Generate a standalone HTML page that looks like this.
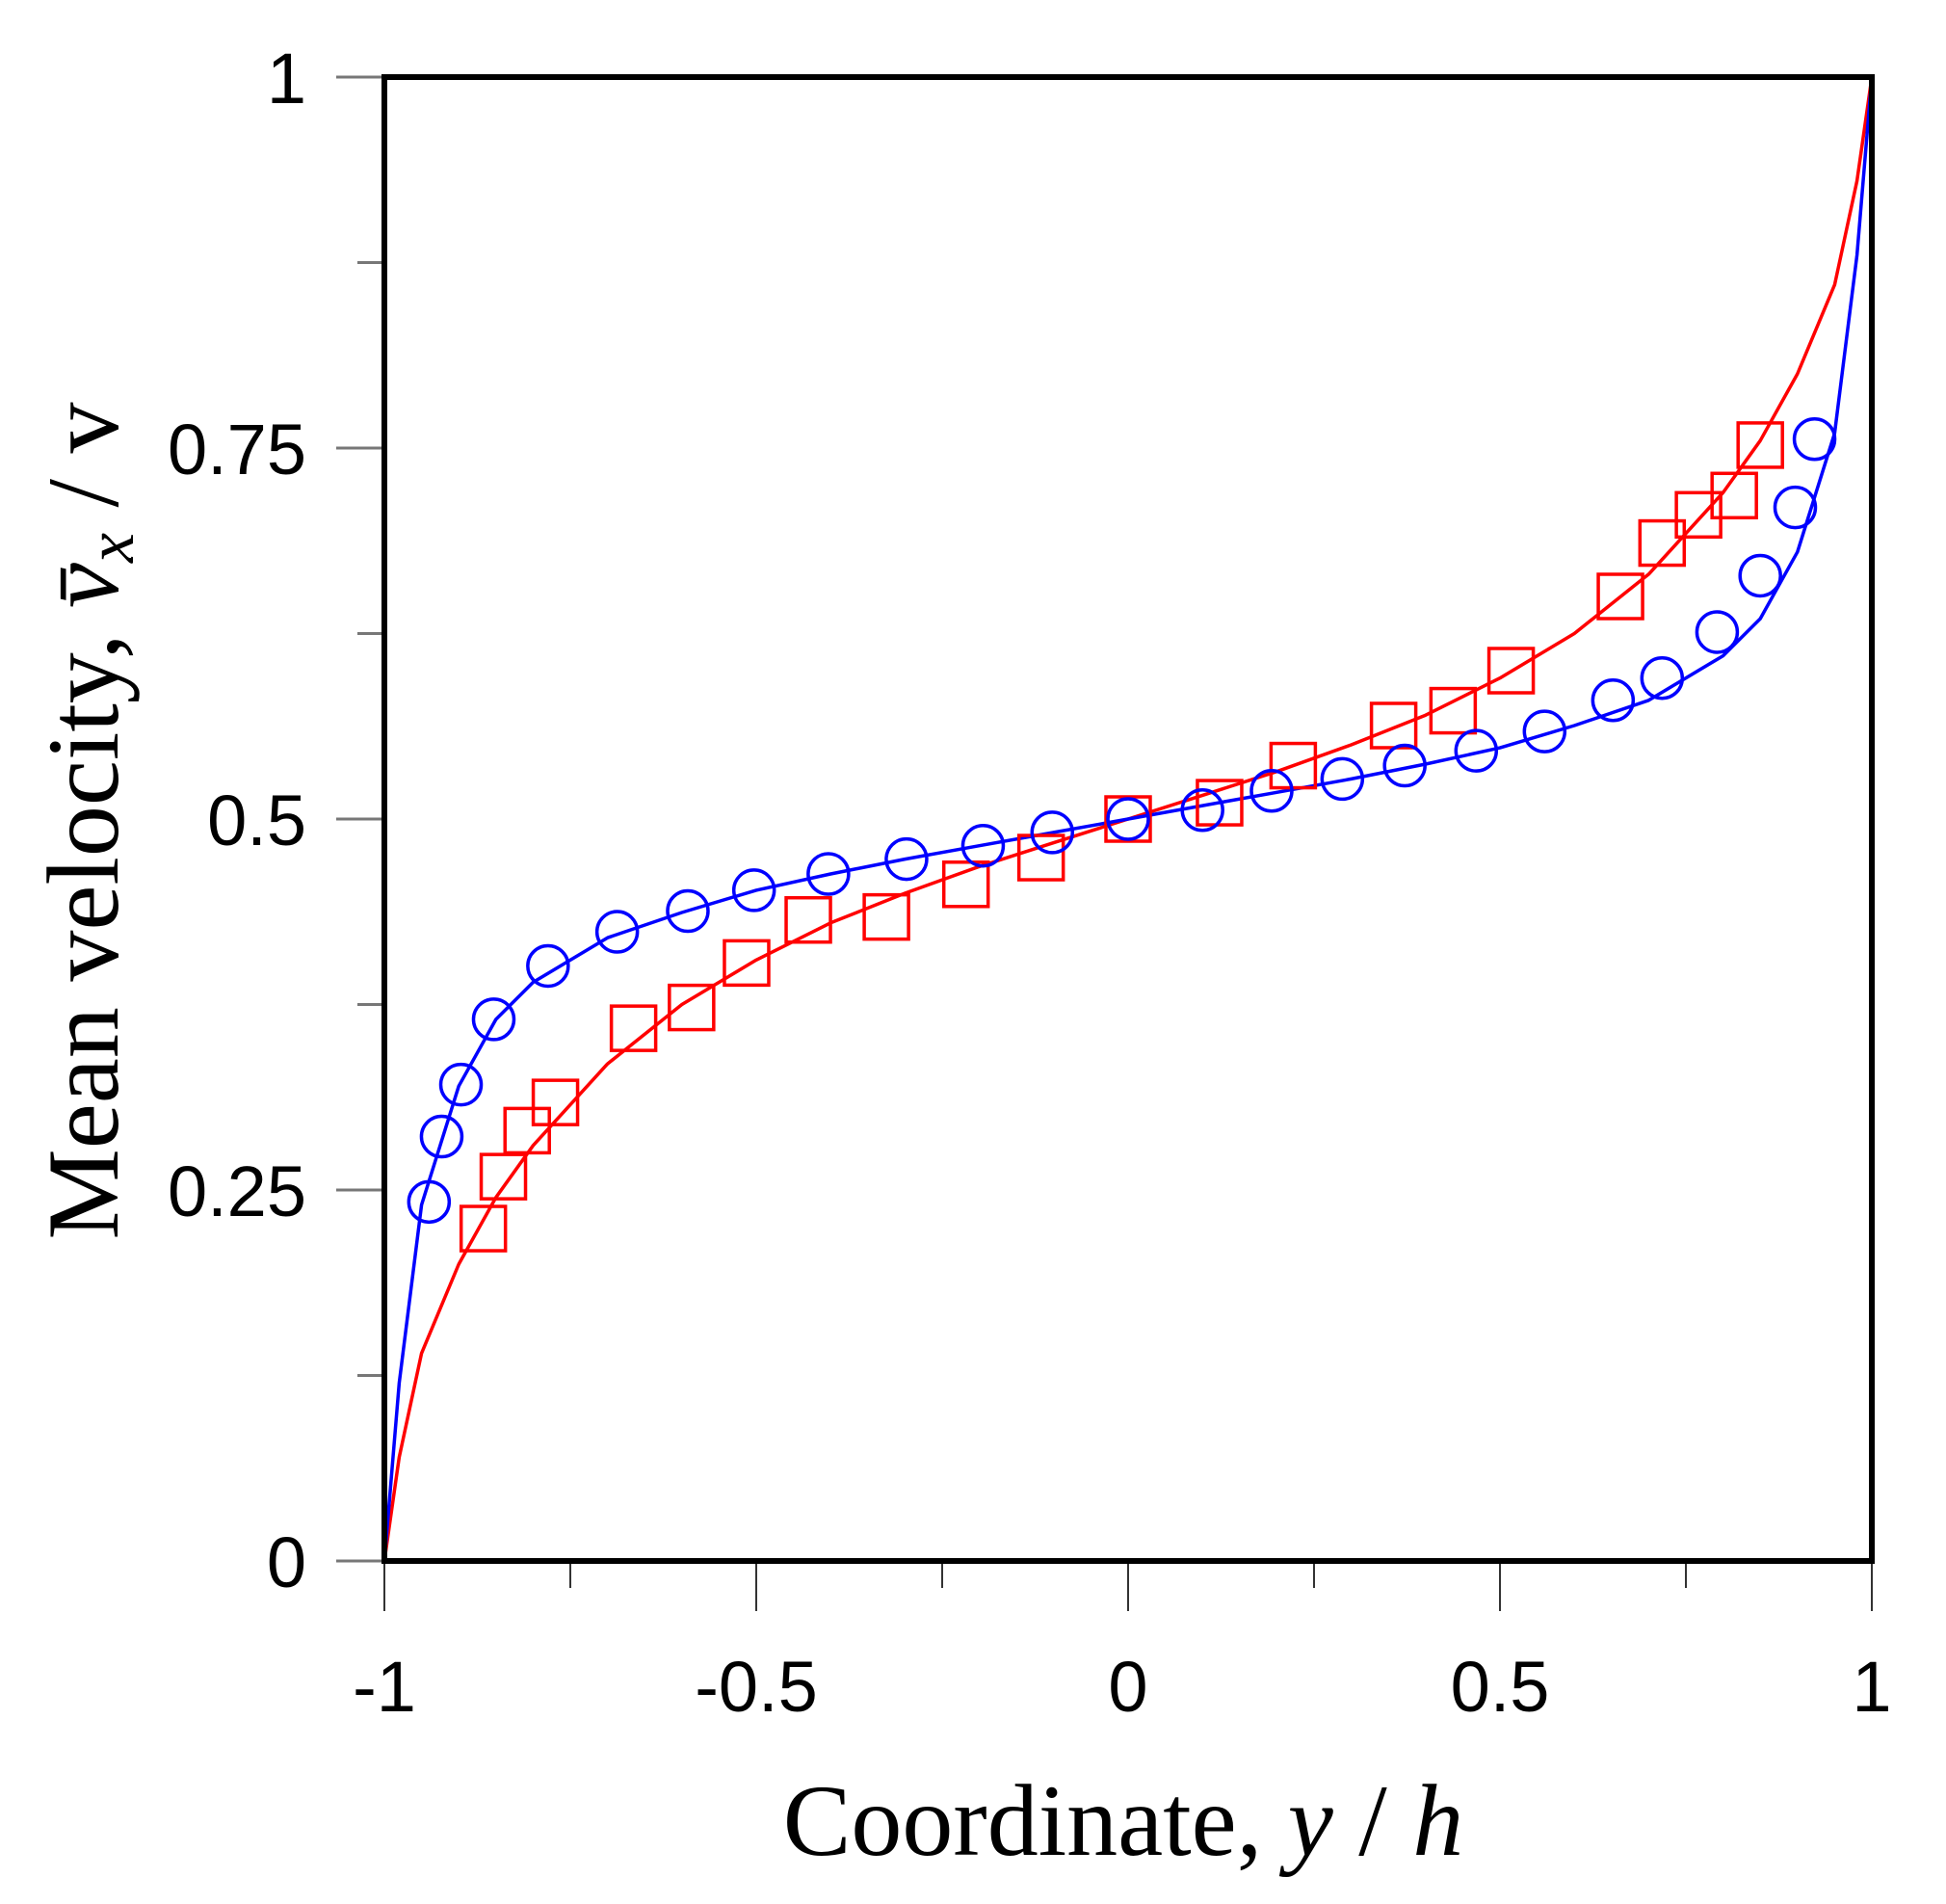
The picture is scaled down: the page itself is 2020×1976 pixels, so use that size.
<!DOCTYPE html>
<html><head><meta charset="utf-8"><style>
html,body{margin:0;padding:0;background:#fff;}
svg{display:block;}
.tick{font-family:"Liberation Sans",sans-serif;font-size:74px;fill:#000;}
.title{font-family:"Liberation Serif",serif;font-size:106px;fill:#000;}
</style></head><body>
<svg id="chart" width="2020" height="1976" viewBox="0 0 2020 1976" xmlns="http://www.w3.org/2000/svg">
<g id="ticks"></g>
<g id="curves"></g>
<g id="marks"></g>
<rect x="399" y="80" width="1544" height="1540" fill="none" stroke="#000" stroke-width="6"/>
<text class="title" x="1166" y="1925" text-anchor="middle">Coordinate, <tspan font-style="italic">y</tspan> / <tspan font-style="italic">h</tspan></text>
<text class="title" transform="translate(122,852) rotate(-90)" text-anchor="middle">Mean velocity, <tspan font-style="italic">v̄</tspan><tspan font-style="italic" font-size="70" dy="16">x</tspan><tspan dy="-16"> / v</tspan></text>
</svg>
<script>
const xTicks=[-1,-0.75,-0.5,-0.25,0,0.25,0.5,0.75,1];
const xTickLabels=["-1","","-0.5","","0","","0.5","","1"];
const yTicks=[0,0.125,0.25,0.375,0.5,0.625,0.75,0.875,1];
const yTickLabels=["0","","0.25","","0.5","","0.75","","1"];
const blueX=[-0.94,-0.923,-0.897,-0.853,-0.78,-0.687,-0.592,-0.503,-0.403,-0.298,-0.195,-0.102,0.0,0.1,0.193,0.288,0.372,0.468,0.56,0.652,0.718,0.792,0.85,0.897,0.923];
const blueY=[0.242,0.286,0.321,0.365,0.401,0.424,0.438,0.452,0.463,0.473,0.482,0.491,0.500,0.506,0.519,0.527,0.536,0.546,0.559,0.580,0.595,0.626,0.664,0.710,0.756];
const redX=[-0.867,-0.84,-0.808,-0.77,-0.665,-0.587,-0.513,-0.43,-0.325,-0.218,-0.117,0,0.123,0.222,0.357,0.437,0.515,0.662,0.718,0.767,0.815,0.85];
const redY=[0.224,0.259,0.290,0.309,0.359,0.373,0.403,0.432,0.434,0.456,0.474,0.500,0.511,0.536,0.563,0.573,0.600,0.650,0.686,0.705,0.718,0.752];
const curveX=[-1,-0.98,-0.95,-0.9,-0.85,-0.8,-0.7,-0.6,-0.5,-0.4,-0.3,-0.2,-0.1,0,0.1,0.2,0.3,0.4,0.5,0.6,0.7,0.8,0.85,0.9,0.95,0.98,1];
const blueCurveY=[0,0.12,0.24,0.32,0.365,0.39,0.42,0.437,0.452,0.463,0.473,0.482,0.491,0.5,0.509,0.518,0.527,0.537,0.548,0.563,0.58,0.61,0.635,0.68,0.76,0.88,1];
const redCurveY=[0,0.07,0.14,0.2,0.245,0.28,0.335,0.375,0.405,0.43,0.45,0.468,0.484,0.5,0.516,0.532,0.55,0.57,0.595,0.625,0.665,0.72,0.755,0.8,0.86,0.93,1];

const L=399,R=1943,T=80,B=1620;
const sx=v=>L+(v+1)/2*(R-L);
const sy=v=>B-v*(B-T);
const NS="http://www.w3.org/2000/svg";
function mk(tag,parent,attrs){const e=document.createElementNS(NS,tag);for(const k in attrs)e.setAttribute(k,attrs[k]);parent.appendChild(e);return e;}
const tg=document.getElementById('ticks');
xTicks.forEach((v,i)=>{
  const major=xTickLabels[i]!=="";
  const ln=mk('line',tg,{x1:sx(v),x2:sx(v),y1:B,y2:B+(major?52:28),stroke:'#333','stroke-width':2});
  
  
  if(major){const t=mk('text',tg,{x:sx(v),y:1776,'text-anchor':'middle',class:'tick'});t.textContent=xTickLabels[i];
  
  }
});
yTicks.forEach((v,i)=>{
  const major=yTickLabels[i]!=="";
  const ln=mk('line',tg,{x1:L-(major?50:28),x2:L,y1:sy(v),y2:sy(v),stroke:'#777','stroke-width':3});
  
  
  if(major){const t=mk('text',tg,{x:318,y:sy(v)+27,'text-anchor':'end',class:'tick'});t.textContent=yTickLabels[i];
  
  }
});
const cg=document.getElementById('curves');
function curve(ys,color,name){
  const d=curveX.map((x,i)=>(i?'L':'M')+sx(x).toFixed(1)+','+sy(ys[i]).toFixed(1)).join('');
  const p=mk('path',cg,{d:d,fill:'none',stroke:color,'stroke-width':3.5,'stroke-linejoin':'round'});
  
  
}
curve(redCurveY,'#ff0000','red-fit-curve');
curve(blueCurveY,'#0000ff','blue-fit-curve');
const mg=document.getElementById('marks');
redX.forEach((x,i)=>{
  const r=mk('rect',mg,{x:sx(x)-23,y:sy(redY[i])-23,width:46,height:46,fill:'none',stroke:'#ff0000','stroke-width':3.5});
  
  
});
blueX.forEach((x,i)=>{
  const c=mk('circle',mg,{cx:sx(x),cy:sy(blueY[i]),r:21,fill:'none',stroke:'#0000ff','stroke-width':3.5});
  
  
});
</script>
</body></html>
